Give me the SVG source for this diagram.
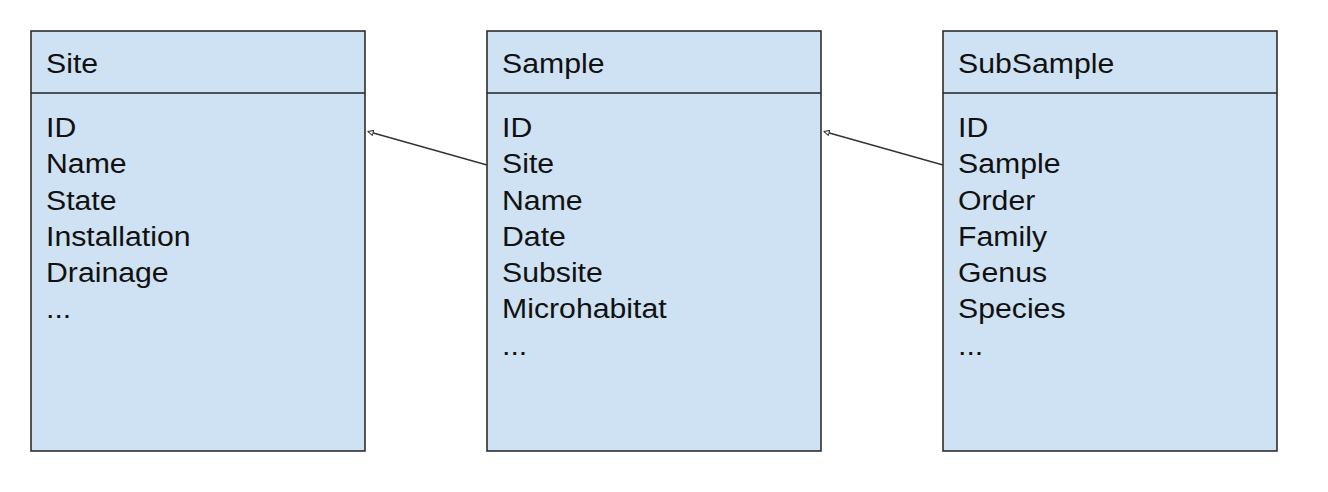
<svg xmlns="http://www.w3.org/2000/svg" width="1328" height="492" viewBox="0 0 1328 492">
<style>
.box{fill:#cfe2f3;stroke:#222;stroke-width:1.5}
.div{stroke:#222;stroke-width:1.5}
text{font-family:"Liberation Sans",Arial,sans-serif;font-size:27px;fill:#111}
.conn{stroke:#333;stroke-width:1.3;fill:none}
</style>
<defs>
<marker id="arr" viewBox="0 0 10 10" refX="9" refY="5" markerWidth="5" markerHeight="5" orient="auto" markerUnits="strokeWidth">
<path d="M1,1 L9,5 L1,9 Z" fill="#fff" stroke="#333" stroke-width="1.5"/>
</marker>
</defs>
<rect width="1328" height="492" fill="#fff"/>
<g id="site">
<rect class="box" x="31" y="31" width="334" height="420"/>
<line class="div" x1="31" y1="93" x2="365" y2="93"/>
<g transform="matrix(1.12 0 0 1 46 0)">
<text x="0" y="73">Site</text>
<text x="0" y="137">ID</text>
<text x="0" y="173.3">Name</text>
<text x="0" y="209.6">State</text>
<text x="0" y="245.9">Installation</text>
<text x="0" y="282.2">Drainage</text>
<text x="0" y="318.5">...</text>
</g>
</g>
<g id="sample">
<rect class="box" x="487" y="31" width="334" height="420"/>
<line class="div" x1="487" y1="93" x2="821" y2="93"/>
<g transform="matrix(1.12 0 0 1 502 0)">
<text x="0" y="73">Sample</text>
<text x="0" y="137">ID</text>
<text x="0" y="173.3">Site</text>
<text x="0" y="209.6">Name</text>
<text x="0" y="245.9">Date</text>
<text x="0" y="282.2">Subsite</text>
<text x="0" y="318.5">Microhabitat</text>
<text x="0" y="354.8">...</text>
</g>
</g>
<g id="subsample">
<rect class="box" x="943" y="31" width="334" height="420"/>
<line class="div" x1="943" y1="93" x2="1277" y2="93"/>
<g transform="matrix(1.12 0 0 1 958 0)">
<text x="0" y="73">SubSample</text>
<text x="0" y="137">ID</text>
<text x="0" y="173.3">Sample</text>
<text x="0" y="209.6">Order</text>
<text x="0" y="245.9">Family</text>
<text x="0" y="282.2">Genus</text>
<text x="0" y="318.5">Species</text>
<text x="0" y="354.8">...</text>
</g>
</g>
<g id="connectors">
<line class="conn" x1="487" y1="165" x2="368" y2="131.5" marker-end="url(#arr)"/>
<line class="conn" x1="943" y1="165" x2="824" y2="131.5" marker-end="url(#arr)"/>
</g>
</svg>
